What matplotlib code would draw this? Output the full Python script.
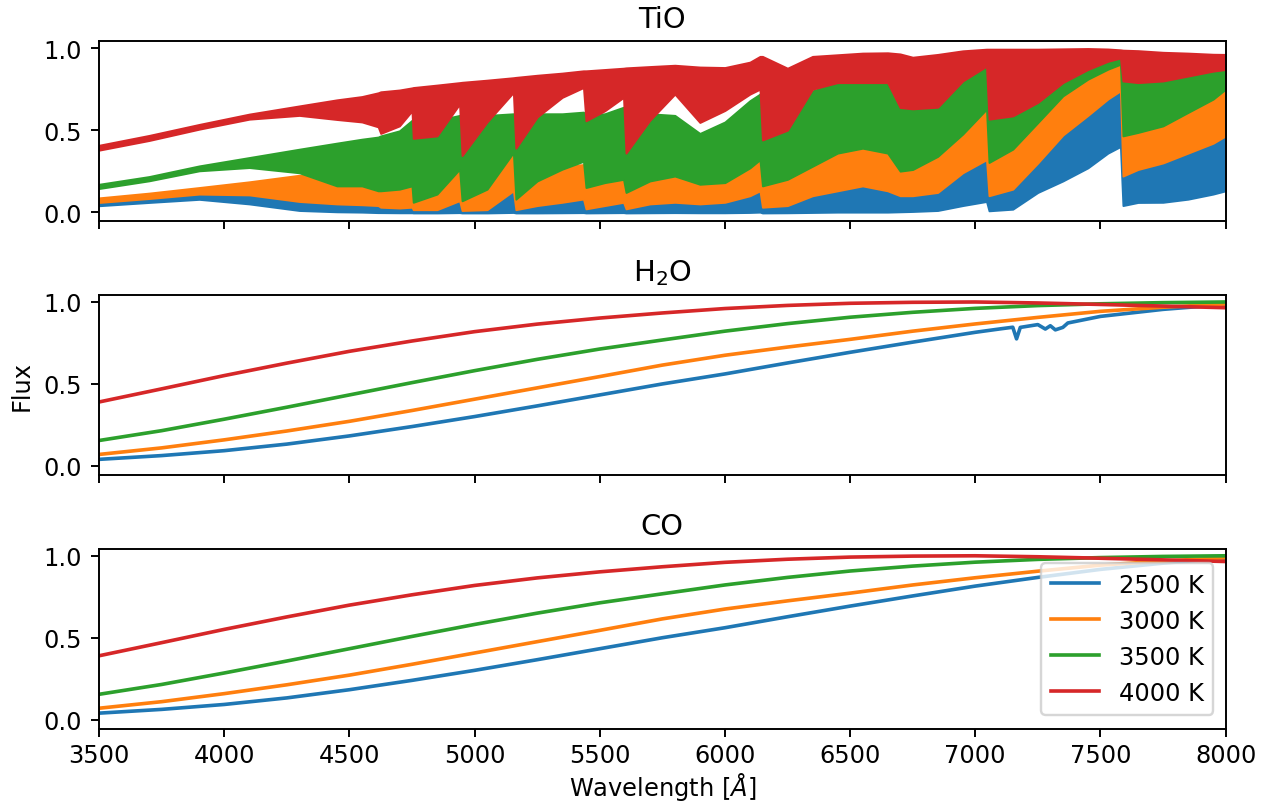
"""
Model spectra of cool stars with single-molecule opacity (TiO, H2O, CO).

Writes out.png.
"""
import matplotlib
matplotlib.use("Agg")
import matplotlib.pyplot as plt

temps = ["2500 K", "3000 K", "3500 K", "4000 K"]
colors = ["#1f77b4", "#ff7f0e", "#2ca02c", "#d62728"]

# smooth continua (CO panel, H2O panel except the coolest one)
wl_cont = [3500, 3750, 4000, 4250, 4500, 4750, 5000, 5250, 5500, 5750,
           6000, 6250, 6500, 6750, 7000, 7250, 7500, 7750, 8000]
co_2500 = [.040, .063, .093, .133, .183, .240, .301, .366, .433, .500,
           .561, .628, .693, .755, .815, .868, .917, .955, .985]
co_3000 = [.070, .110, .159, .213, .272, .338, .407, .476, .545, .615,
           .675, .725, .772, .822, .866, .906, .943, .968, .988]
co_3500 = [.155, .215, .285, .358, .433, .508, .581, .650, .713, .768,
           .822, .868, .907, .937, .961, .978, .989, .996, 1.0]
co_4000 = [.390, .470, .551, .627, .699, .762, .819, .865, .902, .933,
           .960, .979, .992, .998, 1.0, .994, .985, .975, .965]

# H2O 2500 K shows a few weak bands near 7200-7400 A
wl_h2o_cool = [3500, 3750, 4000, 4250, 4500, 4750, 5000, 5250, 5500, 5750,
               6000, 6250, 6500, 6750, 7000, 7100, 7150, 7165, 7180, 7250,
               7280, 7300, 7320, 7350, 7370, 7500, 7750, 8000]
h2o_2500 = [.040, .063, .093, .133, .183, .240, .301, .366, .433, .500,
            .561, .628, .693, .755, .815, .836, .846, .775, .845, .862,
            .835, .855, .830, .845, .872, .912, .955, .985]

# TiO: upper / lower envelope of the dense line forest
wl_tio = [3500, 3700, 3900, 4100, 4300, 4450, 4550, 4615, 4625, 4700,
          4750, 4755, 4850, 4940, 4950, 5050, 5155, 5165, 5250, 5350,
          5435, 5445, 5520, 5595, 5605, 5700, 5800, 5900, 6000, 6100,
          6140, 6150, 6250, 6350, 6450, 6550, 6650, 6700, 6750, 6850,
          6950, 7045, 7055, 7150, 7250, 7350, 7450, 7530, 7580, 7590,
          7650, 7750, 7850, 7950, 8000]
tio_4000_hi = [.408, .468, .535, .598, .648, .685, .705, .728, .734, .745,
               .758, .760, .775, .790, .792, .805, .820, .822, .835, .848,
               .862, .862, .870, .878, .880, .888, .896, .885, .882, .915,
               .950, .950, .878, .950, .960, .970, .972, .965, .945, .962,
               .984, .994, .994, .994, .994, .996, .998, .995, .990, .988,
               .985, .975, .970, .963, .962]
tio_4000_lo = [.378, .437, .506, .567, .590, .565, .550, .520, .480, .526,
               .618, .450, .465, .659, .345, .550, .730, .390, .580, .700,
               .760, .557, .618, .700, .360, .560, .720, .547, .620, .720,
               .750, .440, .500, .750, .790, .790, .790, .638, .630, .640,
               .800, .890, .567, .587, .669, .790, .870, .920, .940, .800,
               .790, .800, .830, .860, .870]
tio_3500_hi = [.170, .217, .282, .333, .384, .421, .445, .458, .465, .496,
               .560, .560, .560, .590, .590, .590, .600, .600, .600, .600,
               .610, .590, .600, .640, .600, .600, .590, .480, .550, .680,
               .720, .620, .640, .740, .790, .810, .790, .700, .680, .680,
               .830, .920, .920, .900, .920, .940, .950, .960, .960, .850,
               .850, .850, .870, .890, .900]
tio_3500_lo = [.144, .191, .252, .272, .240, .160, .160, .130, .130, .140,
               .160, .060, .110, .262, .069, .140, .364, .079, .190, .262,
               .310, .150, .180, .200, .120, .190, .220, .170, .180, .270,
               .320, .160, .200, .280, .360, .390, .360, .250, .260, .340,
               .476, .628, .303, .384, .546, .709, .811, .872, .902, .465,
               .486, .526, .608, .689, .750]
tio_3000_hi = [.087, .116, .150, .185, .225, .220, .215, .210, .250, .250,
               .260, .200, .200, .300, .150, .220, .400, .200, .250, .280,
               .290, .220, .240, .260, .200, .250, .280, .240, .240, .320,
               .360, .220, .260, .340, .420, .450, .440, .360, .360, .420,
               .550, .700, .400, .460, .620, .760, .860, .910, .930, .550,
               .560, .600, .680, .750, .800]
tio_3000_lo = [.059, .083, .110, .105, .065, .050, .045, .040, .030, .025,
               .030, .015, .015, .070, .010, .015, .130, .015, .040, .060,
               .080, .020, .040, .060, .020, .050, .060, .050, .060, .100,
               .130, .030, .040, .100, .130, .160, .130, .100, .100, .120,
               .240, .320, .100, .140, .300, .470, .590, .690, .740, .220,
               .260, .300, .360, .420, .465]
tio_2500_hi = [.063, .088, .118, .120, .100, .090, .085, .080, .070, .060,
               .060, .050, .050, .100, .040, .050, .160, .050, .070, .090,
               .110, .050, .070, .090, .050, .080, .090, .080, .090, .130,
               .160, .060, .070, .130, .160, .190, .160, .130, .130, .150,
               .270, .350, .130, .170, .330, .500, .620, .720, .770, .250,
               .290, .330, .390, .450, .495]
tio_2500_lo = [.039, .059, .078, .050, .010, .002, .000, -.003, -.003, -.004,
               -.004, -.005, -.005, -.003, -.005, -.005, -.002, -.005, -.005, -.004,
               -.003, -.005, -.004, -.003, -.005, -.004, -.003, -.004, -.004, -.002,
               .000, -.005, -.004, -.002, .000, .000, .000, .002, .004, .010,
               .040, .065, .008, .018, .120, .190, .270, .360, .400, .040,
               .059, .060, .079, .110, .130]

tio_hi = [tio_2500_hi, tio_3000_hi, tio_3500_hi, tio_4000_hi]
tio_lo = [tio_2500_lo, tio_3000_lo, tio_3500_lo, tio_4000_lo]
co_flux = [co_2500, co_3000, co_3500, co_4000]

fig, axes = plt.subplots(3, 1, sharex=True, figsize=(7.299, 4.649), dpi=174)
fig.subplots_adjust(left=0.078, right=0.965, bottom=0.098, top=0.948,
                    hspace=0.41)

ax = axes[0]
for lo, hi, c in zip(tio_lo, tio_hi, colors):
    ax.fill_between(wl_tio, lo, hi, color=c, edgecolor=c, linewidth=0.8)
ax.set_title("TiO")

ax = axes[1]
ax.plot(wl_h2o_cool, h2o_2500, color=colors[0], lw=1.5)
for flux, c in zip(co_flux[1:], colors[1:]):
    ax.plot(wl_cont, flux, color=c, lw=1.5)
ax.set_title("H$_2$O")
ax.set_ylabel("Flux")

ax = axes[2]
for flux, c, t in zip(co_flux, colors, temps):
    ax.plot(wl_cont, flux, color=c, lw=1.5, label=t)
ax.set_title("CO")
ax.legend(loc="center right")
ax.set_xlabel(r"Wavelength [$\AA$]", labelpad=1)

for ax in axes:
    ax.set_xlim(3500, 8000)
    ax.set_ylim(-0.055, 1.043)
    ax.set_yticks([0.0, 0.5, 1.0])
    ax.tick_params(axis="x", pad=2.5)

fig.savefig("out.png", dpi=174)
